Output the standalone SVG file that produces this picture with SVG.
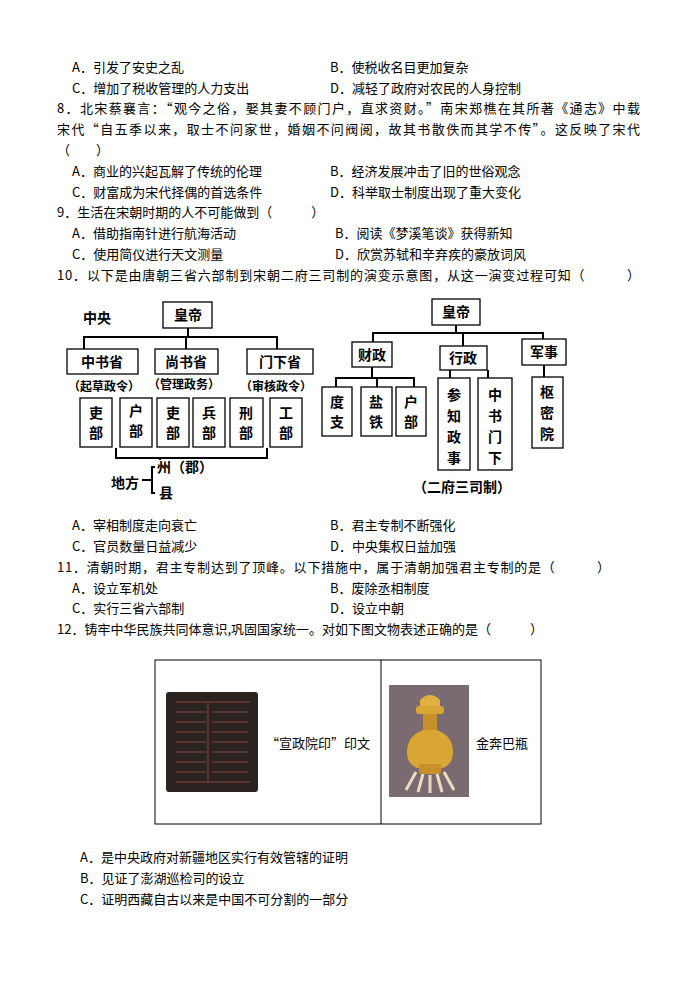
<svg xmlns="http://www.w3.org/2000/svg" width="695" height="983" viewBox="0 0 695 983">
<style>
text{font-family:"Noto Sans CJK SC","Liberation Serif",serif;font-size:13px;fill:#000}
.b{fill:#fff;stroke:#000;stroke-width:1.3}
.l{fill:none;stroke:#000;stroke-width:2}
.n{font-family:"Noto Sans CJK SC",sans-serif;font-size:14px;font-weight:bold;text-anchor:middle}
.v{font-family:"Noto Sans CJK SC",sans-serif;font-size:14px;font-weight:bold;text-anchor:middle}
</style>
<rect width="695" height="983" fill="#fff"/>
<g id="text">
<text x="72" y="72">A．引发了安史之乱</text><text x="330" y="72">B．使税收名目更加复杂</text>
<text x="72" y="93">C．增加了税收管理的人力支出</text><text x="330" y="93">D．减轻了政府对农民的人身控制</text>
<text x="57" y="113" textLength="583">8．北宋蔡襄言：“观今之俗，娶其妻不顾门户，直求资财。”南宋郑樵在其所著《通志》中载</text>
<text x="57" y="134" textLength="583">宋代“自五季以来，取士不问家世，婚姻不问阀阅，故其书散佚而其学不传”。这反映了宋代</text>
<text x="57" y="155">（　　）</text>
<text x="72" y="176">A．商业的兴起瓦解了传统的伦理</text><text x="330" y="176">B．经济发展冲击了旧的世俗观念</text>
<text x="72" y="197">C．财富成为宋代择偶的首选条件</text><text x="330" y="197">D．科举取士制度出现了重大变化</text>
<text x="57" y="217">9．生活在宋朝时期的人不可能做到（　　　）</text>
<text x="72" y="238">A．借助指南针进行航海活动</text><text x="335" y="238">B．阅读《梦溪笔谈》获得新知</text>
<text x="72" y="259">C．使用简仪进行天文测量</text><text x="335" y="259">D．欣赏苏轼和辛弃疾的豪放词风</text>
<text x="57" y="280" textLength="583">10．以下是由唐朝三省六部制到宋朝二府三司制的演变示意图，从这一演变过程可知（　　　）</text>
<text x="72" y="530">A．宰相制度走向衰亡</text><text x="330" y="530">B．君主专制不断强化</text>
<text x="72" y="551">C．官员数量日益减少</text><text x="330" y="551">D．中央集权日益加强</text>
<text x="57" y="572" textLength="553">11．清朝时期，君主专制达到了顶峰。以下措施中，属于清朝加强君主专制的是（　　　）</text>
<text x="72" y="593">A．设立军机处</text><text x="330" y="593">B．废除丞相制度</text>
<text x="72" y="613">C．实行三省六部制</text><text x="330" y="613">D．设立中朝</text>
<text x="57" y="634">12．铸牢中华民族共同体意识,巩固国家统一。对如下图文物表述正确的是（　　　）</text>
<text x="80" y="862">A．是中央政府对新疆地区实行有效管辖的证明</text>
<text x="80" y="883">B．见证了澎湖巡检司的设立</text>
<text x="80" y="904">C．证明西藏自古以来是中国不可分割的一部分</text>
</g>
<g id="connectors">
<path class="l" d="M188 328V337M84 349V337H277V349M186 337V349"/>
<path class="l" d="M116 448V458H267V448M160 458V460"/>
<path class="l" d="M155 467H152V493H155M142 480H152"/>
<path class="l" d="M456 325V333M373 342V333H543V339M463 333V346M372 367V378M336 387V378H414V387M377 378V387M450 370V378M488 370V378M544 365V377"/>
</g>
<g id="tang">
<text x="97" y="323" class="n">中央</text>
<rect class="b" x="163" y="302" width="49" height="26"/><text class="n" x="188" y="320">皇帝</text>
<rect class="b" x="67" y="349" width="71" height="25"/><text class="n" x="102" y="367">中书省</text>
<rect class="b" x="155" y="349" width="63" height="25"/><text class="n" x="186" y="367">尚书省</text>
<rect class="b" x="247" y="349" width="66" height="25"/><text class="n" x="280" y="367">门下省</text>
<text class="n" x="104" y="391" style="font-size:12px">（起草政令）</text>
<text class="n" x="184" y="389" style="font-size:12px">（管理政务）</text>
<text class="n" x="276" y="391" style="font-size:12px">（审核政令）</text>
<rect class="b" x="80" y="398" width="32" height="49"/><text class="v" x="96" y="418">吏</text><text class="v" x="96" y="438">部</text>
<rect class="b" x="120" y="398" width="32" height="49"/><text class="v" x="136" y="416">户</text><text class="v" x="136" y="436">部</text>
<rect class="b" x="157" y="398" width="32" height="49"/><text class="v" x="173" y="418">吏</text><text class="v" x="173" y="438">部</text>
<rect class="b" x="193" y="398" width="32" height="49"/><text class="v" x="209" y="418">兵</text><text class="v" x="209" y="438">部</text>
<rect class="b" x="230" y="398" width="33" height="49"/><text class="v" x="246" y="418">刑</text><text class="v" x="246" y="438">部</text>
<rect class="b" x="270" y="398" width="32" height="49"/><text class="v" x="286" y="418">工</text><text class="v" x="286" y="438">部</text>
<text class="n" x="125" y="488">地方</text>
<text x="157" y="472" style="font-size:14px;font-weight:bold">州（郡）</text>
<text x="159" y="498" style="font-size:14px;font-weight:bold">县</text>
</g>
<g id="song">
<rect class="b" x="432" y="299" width="48" height="26"/><text class="n" x="456" y="317">皇帝</text>
<rect class="b" x="352" y="342" width="40" height="25"/><text class="n" x="372" y="360">财政</text>
<rect class="b" x="440" y="346" width="47" height="24"/><text class="n" x="463" y="363">行政</text>
<rect class="b" x="522" y="339" width="44" height="26"/><text class="n" x="544" y="357">军事</text>
<rect class="b" x="322" y="387" width="30" height="49"/><text class="v" x="337" y="407">度</text><text class="v" x="337" y="427">支</text>
<rect class="b" x="361" y="387" width="31" height="49"/><text class="v" x="376" y="407">盐</text><text class="v" x="376" y="427">铁</text>
<rect class="b" x="396" y="387" width="30" height="49"/><text class="v" x="411" y="407">户</text><text class="v" x="411" y="427">部</text>
<rect class="b" x="438" y="378" width="32" height="92"/><text class="v" x="454" y="400">参</text><text class="v" x="454" y="421">知</text><text class="v" x="454" y="442">政</text><text class="v" x="454" y="463">事</text>
<rect class="b" x="478" y="378" width="34" height="92"/><text class="v" x="495" y="400">中</text><text class="v" x="495" y="421">书</text><text class="v" x="495" y="442">门</text><text class="v" x="495" y="463">下</text>
<rect class="b" x="532" y="377" width="31" height="71"/><text class="v" x="547" y="397">枢</text><text class="v" x="547" y="418">密</text><text class="v" x="547" y="439">院</text>
<text class="n" x="462" y="492">（二府三司制）</text>
</g>
<g id="relics">
<rect x="155" y="660" width="386" height="164" fill="none" stroke="#000" stroke-width="1"/>
<line x1="381" y1="660" x2="381" y2="824" stroke="#000"/>
<rect x="166" y="692" width="92" height="100" rx="3" fill="#2a231f"/>
<path d="M176 702h74M176 712h30M212 712h36M176 722h30M212 722h36M176 732h30M212 732h36M176 742h30M212 742h36M176 752h30M212 752h36M176 762h30M212 762h36M176 772h30M212 772h36M176 782h74M208 702v80" stroke="#6a3a34" stroke-width="1.5" fill="none"/>
<text x="266" y="748" style="font-family:'Noto Sans CJK SC',sans-serif">“宣政院印”印文</text>
<rect x="389" y="685" width="80" height="112" fill="#7a6a72"/>
<path d="M416 772l-10 18M423 774l-5 18M430 775v18M437 774l5 18M444 772l10 18" stroke="#eadcc0" stroke-width="3"/>
<path d="M420 700q10-10 20 0v6h-20z" fill="#e0b040"/>
<rect x="416" y="706" width="28" height="8" rx="3" fill="#d9a634"/>
<rect x="423" y="714" width="14" height="16" fill="#c8902a"/>
<path d="M423 730q-16 6-16 22q0 12 10 16h26q10-4 10-16q0-16-16-22z" fill="#d9a634"/>
<rect x="419" y="764" width="22" height="10" rx="2" fill="#c8902a"/>
<text x="476" y="748" style="font-family:'Noto Sans CJK SC',sans-serif">金奔巴瓶</text>
</g>
</svg>
